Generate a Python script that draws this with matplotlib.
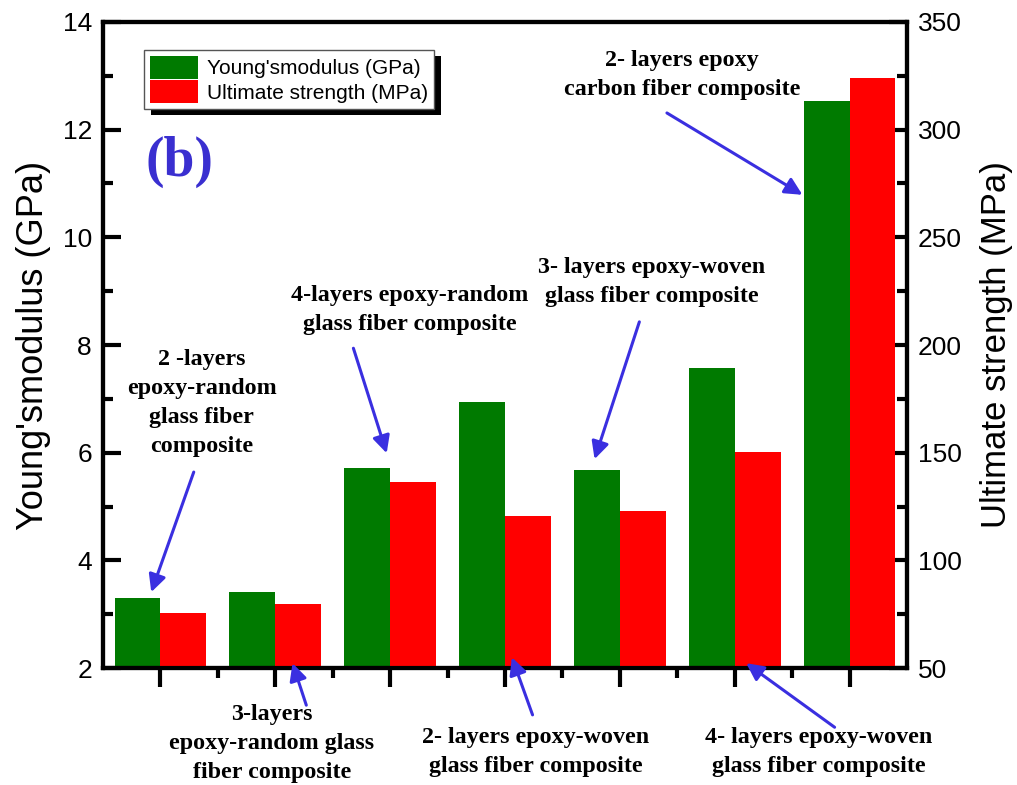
import matplotlib
matplotlib.use("Agg")
import matplotlib.pyplot as plt
import numpy as np
from matplotlib.patches import Rectangle
from matplotlib.transforms import IdentityTransform
from matplotlib.ticker import MultipleLocator, FixedLocator

# Composite samples, in plotting order
samples = [
    "2-layers epoxy-random glass",
    "3-layers epoxy-random glass",
    "4-layers epoxy-random glass",
    "2-layers epoxy-woven glass",
    "3-layers epoxy-woven glass",
    "4-layers epoxy-woven glass",
    "2-layers epoxy carbon",
]
youngs_modulus_gpa = [3.30, 3.41, 5.71, 6.95, 5.68, 7.57, 12.53]
ultimate_strength_mpa = [75.7, 79.6, 136.5, 120.5, 122.8, 150.3, 323.9]

modulus_label = "Young'smodulus (GPa)"
strength_label = "Ultimate strength (MPa)"

GREEN = "#007a00"
RED = "#ff0000"
ARROW = "#3a2fe0"
SANS = ["Liberation Sans", "DejaVu Sans"]
SERIF = ["Liberation Serif", "DejaVu Serif"]

fig = plt.figure(figsize=(10.17, 7.85), dpi=100)
ax = fig.add_axes([0.1013, 0.149, 0.7905, 0.823])
ax2 = ax.twinx()

x = np.arange(1, len(samples) + 1)
w = 0.4
bars_m = ax.bar(x - w / 2, youngs_modulus_gpa, width=w, bottom=0, color=GREEN,
                zorder=2)
bars_s = ax2.bar(x + w / 2, ultimate_strength_mpa, width=w, bottom=0, color=RED,
                 zorder=2)

ax.set_xlim(0.5, len(samples) + 0.5)
ax.set_ylim(2, 14)
ax2.set_ylim(50, 350)

# x axis: unlabeled major ticks at groups, minor ticks in between
ax.xaxis.set_major_locator(FixedLocator(x))
ax.xaxis.set_minor_locator(FixedLocator(x[:-1] + 0.5))
ax.set_xticklabels([])
ax.tick_params(axis="x", which="major", direction="out", length=14, width=3)
ax.tick_params(axis="x", which="minor", direction="out", length=7, width=3)

ax.yaxis.set_major_locator(MultipleLocator(2))
ax.yaxis.set_minor_locator(MultipleLocator(1))
ax2.yaxis.set_major_locator(MultipleLocator(50))
ax2.yaxis.set_minor_locator(MultipleLocator(25))
for a in (ax, ax2):
    a.tick_params(axis="y", which="major", direction="in", length=13, width=3,
                  labelsize=19, pad=8)
    a.tick_params(axis="y", which="minor", direction="in", length=7, width=3)
    for lab in a.get_yticklabels():
        lab.set_family(SANS)
    for s in a.spines.values():
        s.set_linewidth(3)

ax.set_ylabel(modulus_label, fontsize=26, family=SANS, labelpad=8)
ax2.set_ylabel(strength_label, fontsize=25, family=SANS, labelpad=13)

# panel tag
ax2.text(1.17, 11.41, "(b)", transform=ax.transData, fontsize=40,
         fontweight="bold", family=SERIF, color="#3a2fd0",
         ha="center", va="center")

# legend with a solid drop shadow
leg = ax2.legend([bars_m[0], bars_s[0]], [modulus_label, strength_label],
                 loc="upper left", bbox_to_anchor=(0.051, 0.957),
                 borderaxespad=0, prop={"family": SANS, "size": 15},
                 handlelength=2.3, handleheight=1.3, labelspacing=0.08,
                 handletextpad=0.4, borderpad=0.3, fancybox=False,
                 framealpha=1, edgecolor="#555555")
leg.get_frame().set_linewidth(1)
leg.set_zorder(10)

# annotations: (text, text centre, arrow start, arrow tip) in left-axis data units
notes = [
    ("2 -layers\nepoxy-random\nglass fiber\ncomposite", (1.36, 6.93), (1.29, 5.64), (0.92, 3.41)),
    ("4-layers epoxy-random\nglass fiber composite", (3.17, 8.65), (2.68, 7.94), (2.97, 5.99)),
    ("3- layers epoxy-woven\nglass fiber composite", (5.28, 9.17), (5.17, 8.43), (4.78, 5.88)),
    ("2- layers epoxy\ncarbon fiber composite", (5.54, 13.02), (5.41, 12.31), (6.59, 10.79)),
    ("3-layers\nepoxy-random glass\nfiber composite", (1.97, 0.607), (2.27, 1.31), (2.15, 2.09)),
    ("2- layers epoxy-woven\nglass fiber composite", (4.27, 0.44), (4.24, 1.13), (4.06, 2.20)),
    ("4- layers epoxy-woven\nglass fiber composite", (6.73, 0.44), (6.87, 0.90), (6.10, 2.09)),
]
for txt, (tx, ty), start, tip in notes:
    ax2.text(tx, ty, txt, transform=ax.transData, ha="center", va="center",
             fontsize=17.3, fontweight="bold", family=SERIF, linespacing=1.5,
             clip_on=False, zorder=6)
    ax2.annotate("", xy=tip, xytext=start, xycoords=ax.transData,
                 textcoords=ax.transData, annotation_clip=False,
                 arrowprops=dict(arrowstyle="-|>", color=ARROW, lw=2.2,
                                 mutation_scale=26, shrinkA=0, shrinkB=0),
                 zorder=6)

fig.canvas.draw()
bb = leg.get_window_extent()
shadow = Rectangle((bb.x0 + 7, bb.y0 - 6), bb.width, bb.height,
                   transform=IdentityTransform(), facecolor="black",
                   edgecolor="none", zorder=9)
ax2.add_artist(shadow)

fig.savefig("out.png", dpi=100, facecolor="white")
